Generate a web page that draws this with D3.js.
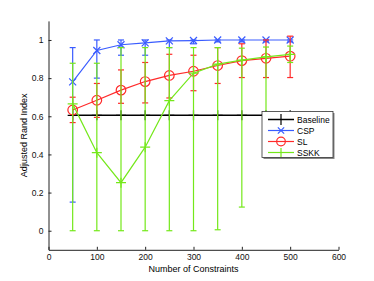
<!DOCTYPE html>
<html>
<head>
<meta charset="utf-8">
<script src="https://cdn.jsdelivr.net/npm/d3@7"></script>
<style>
  body { margin: 0; background: #fff; }
  text { font-family: "Liberation Sans", Arial, sans-serif; }
</style>
</head>
<body>
<svg id="chart"></svg>
<script>
// data
var constraints = [50, 100, 150, 200, 250, 300, 350, 400, 450, 500];

var baseline = [0.605, 0.605, 0.605, 0.605, 0.605, 0.605, 0.605, 0.605, 0.605, 0.605];

var csp    = [0.78, 0.945, 0.975, 0.985, 0.995, 0.997, 1.0, 1.0, 1.0, 1.0];
var cspLo  = [0.15, 0.80, 0.92, 0.92, 0.96, 0.98, 0.99, 0.99, 0.99, 0.99];
var cspHi  = [0.96, 1.0, 1.0, 1.0, 1.0, 1.0, 1.0, 1.0, 1.0, 1.0];

var sl     = [0.633, 0.684, 0.737, 0.782, 0.814, 0.836, 0.866, 0.892, 0.904, 0.915];
var slLo   = [0.567, 0.594, 0.668, 0.67, 0.696, 0.734, 0.772, 0.803, 0.803, 0.803];
var slHi   = [0.70, 0.772, 0.843, 0.882, 0.925, 0.92, 0.96, 0.98, 1.0, 1.02];

var sskk   = [0.665, 0.409, 0.252, 0.438, 0.682, 0.826, 0.873, 0.894, 0.911, 0.925];
var sskkLo = [0, 0, 0, 0, 0, 0, 0.005, 0.124, 0.45, 0.882];
var sskkHi = [0.878, 0.878, 0.96, 0.96, 0.96, 0.96, 0.96, 0.957, 0.963, 0.968];

var xTicks = [0, 100, 200, 300, 400, 500, 600];
var yTicks = [0, 0.2, 0.4, 0.6, 0.8, 1];
var legendNames = ["Baseline", "CSP", "SL", "SSKK"];

var width = 374, height = 281;
var svg = d3.select("#chart").attr("width", width).attr("height", height);

var x = d3.scaleLinear().domain([0, 600]).range([48.5, 338.5]);
var y = d3.scaleLinear().domain([-0.1, 1.1]).range([249.8, 20.9]);

// axes (left + bottom only, ticks inward)
var xAxis = svg.append("g").attr("transform", "translate(0," + y(-0.1) + ")")
  .call(d3.axisBottom(x).tickValues(xTicks).tickSizeInner(-3).tickSizeOuter(0).tickPadding(4));
var yAxis = svg.append("g").attr("transform", "translate(" + x(0) + ",0)")
  .call(d3.axisLeft(y).tickValues(yTicks).tickSizeInner(-3).tickSizeOuter(0).tickPadding(5)
    .tickFormat(function(d) { return d === 0 || d === 1 ? d : d3.format(".1f")(d); }));
[xAxis, yAxis].forEach(function(a) {
  a.select(".domain").attr("stroke", "#222");
  a.selectAll(".tick line").attr("stroke", "#222");
  a.selectAll(".tick text").attr("font-size", "8.5px").attr("fill", "#111")
    .attr("font-family", "Liberation Sans, Arial, sans-serif");
});

svg.append("text").attr("x", x(300)).attr("y", 272)
  .attr("text-anchor", "middle").attr("font-size", "9px").text("Number of Constraints");
svg.append("text").attr("transform", "translate(27," + y(0.5) + ") rotate(-90)")
  .attr("text-anchor", "middle").attr("font-size", "9px").text("Adjusted Rand Index");

var line = d3.line().x(function(d) { return x(d[0]); }).y(function(d) { return y(d[1]); });

function marker(g, kind, cx, cy, color, sz) {
  sz = sz || 1;
  if (kind === "plus") {
    var a = 5 * sz;
    g.append("path").attr("d", "M" + (cx - a) + "," + cy + "H" + (cx + a) + "M" + cx + "," + (cy - a) + "V" + (cy + a))
      .attr("stroke", color).attr("stroke-width", 1.2).attr("fill", "none");
  } else if (kind === "x") {
    var b = 3.5 * sz;
    g.append("path").attr("d", "M" + (cx - b) + "," + (cy - b) + "L" + (cx + b) + "," + (cy + b) +
        "M" + (cx - b) + "," + (cy + b) + "L" + (cx + b) + "," + (cy - b))
      .attr("stroke", color).attr("stroke-width", 1.2).attr("fill", "none");
  } else if (kind === "circle") {
    g.append("circle").attr("cx", cx).attr("cy", cy).attr("r", 4.8 * sz)
      .attr("stroke", color).attr("stroke-width", 1.2).attr("fill", "none");
  }
}

var series = [
  {name: "Baseline", vals: baseline, lo: null, hi: null, color: "#000000", mk: "plus"},
  {name: "CSP", vals: csp, lo: cspLo, hi: cspHi, color: "#3a5cff", mk: "x"},
  {name: "SL", vals: sl, lo: slLo, hi: slHi, color: "#ff2a2a", mk: "circle"},
  {name: "SSKK", vals: sskk, lo: sskkLo, hi: sskkHi, color: "#74e81a", mk: "plus"}
];

series.forEach(function(s) {
  var g = svg.append("g");
  if (s.lo) {
    constraints.forEach(function(c, i) {
      var px = x(c);
      g.append("line").attr("x1", px).attr("x2", px).attr("y1", y(s.lo[i])).attr("y2", y(s.hi[i]))
        .attr("stroke", s.color).attr("stroke-width", 1.2);
      [s.lo[i], s.hi[i]].forEach(function(v) {
        g.append("line").attr("x1", px - 3).attr("x2", px + 3).attr("y1", y(v)).attr("y2", y(v))
          .attr("stroke", s.color).attr("stroke-width", 1.2);
      });
    });
  }
  var pts = constraints.map(function(c, i) { return [c, s.vals[i]]; });
  g.append("path").datum(pts).attr("d", line).attr("fill", "none")
    .attr("stroke", s.color).attr("stroke-width", s.name === "Baseline" ? 1.5 : 1.2);
  pts.forEach(function(p) { marker(g, s.mk, x(p[0]), y(p[1]), s.color); });
});

// legend
var lg = svg.append("g");
lg.append("rect").attr("x", 263.5).attr("y", 113).attr("width", 71).attr("height", 46)
  .attr("fill", "#888");
lg.append("rect").attr("x", 262).attr("y", 111.5).attr("width", 71).attr("height", 46)
  .attr("fill", "#fff").attr("stroke", "#333").attr("stroke-width", 0.8);
series.forEach(function(s, i) {
  var cy = 119.5 + i * 11;
  lg.append("line").attr("x1", 268).attr("x2", 294).attr("y1", cy).attr("y2", cy)
    .attr("stroke", s.color).attr("stroke-width", s.name === "Baseline" ? 1.5 : 1.2);
  marker(lg, s.mk, 281, cy, s.color, s.mk === "plus" && s.name === "Baseline" ? 1.1 : 0.9);
  lg.append("text").attr("x", 297).attr("y", cy + 3).attr("font-size", "8.5px").text(legendNames[i]);
});
</script>
</body>
</html>
